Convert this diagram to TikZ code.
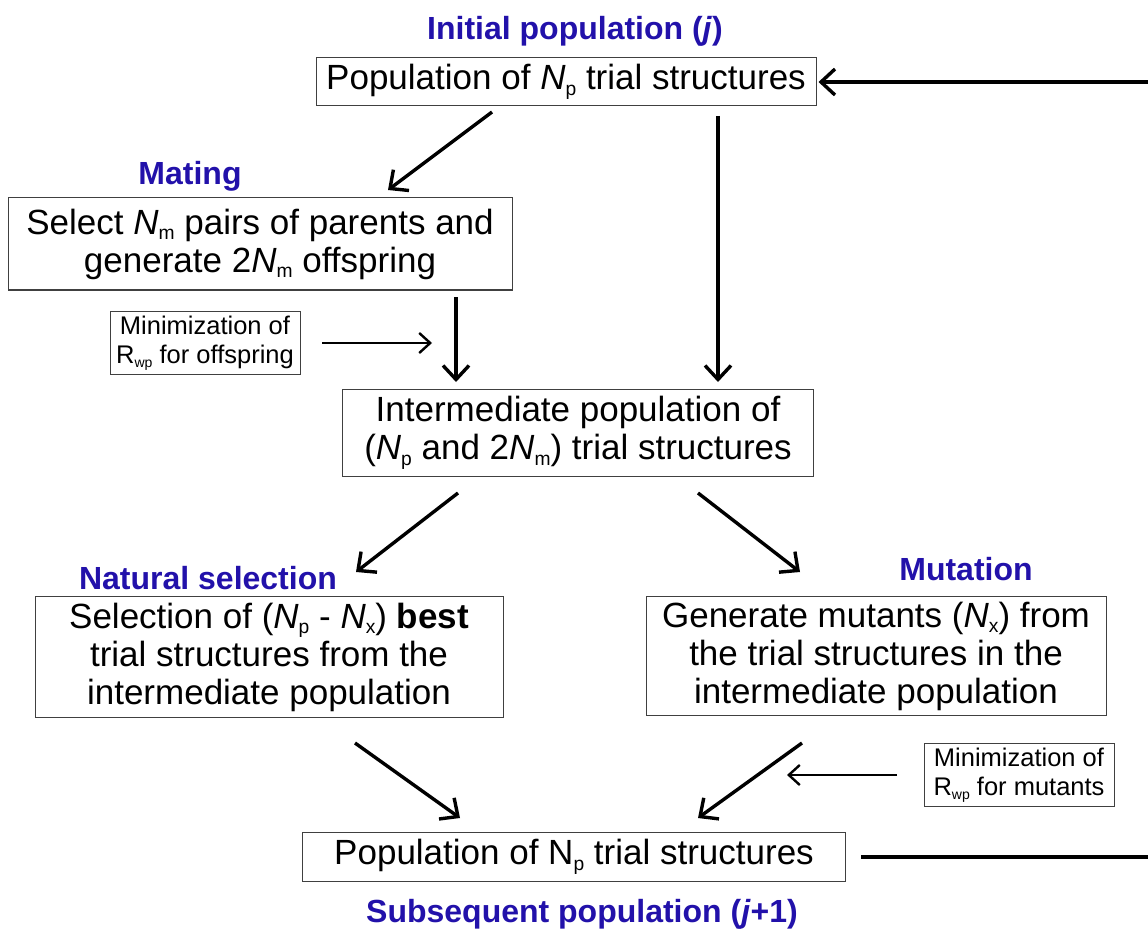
\documentclass[tikz,border=0pt]{standalone}
\usepackage{fontspec}
\setmainfont{Liberation Sans}
\usetikzlibrary{arrows.meta}
\definecolor{lblue}{RGB}{34,17,170}
\newcommand\mysb[1]{\raisebox{-0.32ex}{\scalebox{0.55}{#1}}}
\newcommand\myN[1]{\textit{N}\mysb{#1}}
\begin{document}
\begin{tikzpicture}[x=1pt,y=-1pt,
  bigbox/.style={draw=black!75,line width=1pt,align=center,inner sep=0pt,font=\fontsize{35}{38}\selectfont},
  smallbox/.style={draw=black!75,line width=1pt,align=center,inner sep=0pt,font=\fontsize{25.5}{29}\selectfont},
  lbl/.style={text=lblue,font=\bfseries\fontsize{32}{36}\selectfont,inner sep=0pt},
  arr/.style={line width=3.4pt,-{Straight Barb[length=14pt,width=26pt,line width=3.4pt]}},
  sarr/.style={line width=2.4pt,-{Straight Barb[length=11pt,width=20pt,line width=2.4pt]}},
  plain/.style={line width=3.4pt}]
\useasboundingbox (0,0) rectangle (1148,933);
% labels
\node[lbl] (l1) at (575,31) {Initial population (\textit{j})};
\node[lbl] (l2) at (190,176) {Mating};
\node[lbl] (l3) at (208,578) {Natural selection};
\node[lbl] (l4) at (966,569) {Mutation};
\node[lbl] (l5) at (582,914) {Subsequent population (\textit{j}+1)};
% boxes
\node[bigbox,minimum width=500pt,minimum height=48pt] (top) at (566,82) {Population of \myN{p} trial structures};
\node[bigbox,minimum width=504pt,minimum height=92pt] (mate) at (260,244) {Select \myN{m} pairs of parents and\\generate 2\myN{m} offspring};
\node[smallbox,minimum width=190pt,minimum height=63pt] (min1) at (205,343) {Minimization of\\R\mysb{wp} for offspring};
\node[bigbox,minimum width=471pt,minimum height=87pt] (inter) at (578,433) {Intermediate population of\\(\myN{p} and 2\myN{m}) trial structures};
\node[bigbox,minimum width=468pt,minimum height=121pt] (sel) at (269,657) {Selection of (\myN{p} - \myN{x}) \textbf{best}\\trial structures from the\\intermediate population};
\node[bigbox,minimum width=460pt,minimum height=119pt] (mut) at (876,656) {Generate mutants (\myN{x}) from\\the trial structures in the\\intermediate population};
\node[smallbox,minimum width=190pt,minimum height=63pt] (min2) at (1019,775) {Minimization of\\R\mysb{wp} for mutants};
\node[bigbox,minimum width=543pt,minimum height=49pt] (bot) at (574,857) {Population of N\mysb{p} trial structures};
% coordinates
\coordinate (e1) at (1148,82);
\coordinate (e2) at (1148,857);
\coordinate (a1s) at (492,112); \coordinate (a1e) at (388,190);
\coordinate (a2s) at (718,116); \coordinate (a2e) at (718,382);
\coordinate (a3s) at (456,297); \coordinate (a3e) at (456,382);
\coordinate (a4s) at (322,343); \coordinate (a4e) at (432,343);
\coordinate (a5s) at (458,493); \coordinate (a5e) at (356,572);
\coordinate (a6s) at (698,493); \coordinate (a6e) at (800,572);
\coordinate (a7s) at (355,743); \coordinate (a7e) at (460,818);
\coordinate (a8s) at (802,743); \coordinate (a8e) at (698,818);
\coordinate (a9s) at (897,775); \coordinate (a9e) at (787,775);
% connectors
\draw[arr] (e1) -- ([xshift=2pt]top.east);
\draw[plain] ([xshift=15pt]bot.east) -- (e2);
\draw[arr] (a1s) -- (a1e);
\draw[arr] (a2s) -- (a2e);
\draw[arr] (a3s) -- (a3e);
\draw[sarr] (a4s) -- (a4e);
\draw[arr] (a5s) -- (a5e);
\draw[arr] (a6s) -- (a6e);
\draw[arr] (a7s) -- (a7e);
\draw[arr] (a8s) -- (a8e);
\draw[sarr] (a9s) -- (a9e);
\end{tikzpicture}
\end{document}
